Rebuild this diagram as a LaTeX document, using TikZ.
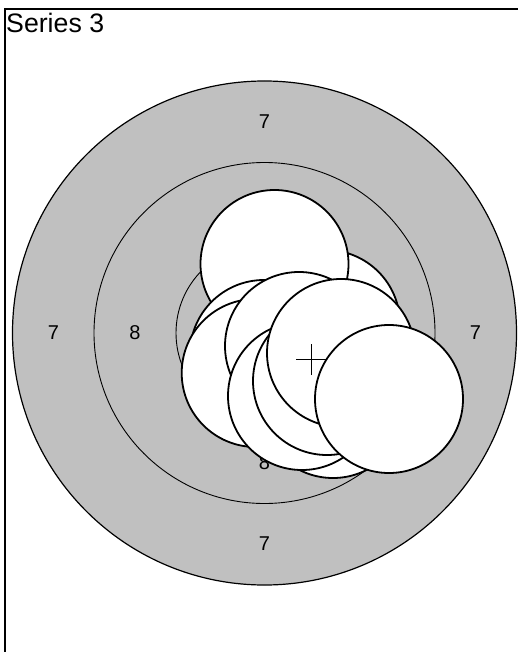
\documentclass[tikz,border=0pt]{standalone}
\usepackage{fontspec}
\setmainfont{Liberation Sans}
\definecolor{targetgray}{RGB}{192,192,192}
\begin{document}
\begin{tikzpicture}[x=1pt,y=-1pt,
  shot/.style={circle, draw=black, fill=white, line width=1.8pt, minimum size=148pt, inner sep=0pt},
  ringc/.style={circle, draw=black, fill=targetgray, inner sep=0pt},
  lbl/.style={font=\fontsize{20}{24}\selectfont, inner sep=0pt},
  frame/.style={line width=1.6pt}]
\useasboundingbox (0,0) rectangle (518,652);
\fill[white] (0,0) rectangle (518,652);
% frame
\coordinate (fb) at (5,652);
\coordinate (fc) at (5,9);
\coordinate (fr) at (518,9);
\draw[frame] (fb) -- (fc) -- (fr);
\node[anchor=base west, inner sep=0pt, font=\fontsize{26.7}{30}\selectfont] (title) at (6,33) {Series 3};
% target rings
\node[ringc, line width=1.2pt, minimum size=504pt] (r7) at (264.5,333) {};
\node[ringc, line width=0.9pt, minimum size=341pt] (r8) at (264.5,333) {};
\node[ringc, line width=0.9pt, minimum size=177pt] (r9) at (264.5,333) {};
% ring labels
\node[lbl] (l7t) at (264.5,122) {7};
\node[lbl] (l7b) at (264.5,544) {7};
\node[lbl] (l7l) at (53.5,333) {7};
\node[lbl] (l7r) at (475.5,333) {7};
\node[lbl] (l8l) at (135,333) {8};
\node[lbl] (l8b) at (264.5,462.5) {8};
% shots
\node[shot] (sB) at (326,324) {};
\node[shot] (sJ) at (333,404) {};
\node[shot] (sA) at (274.5,264) {};
\node[shot] (sC) at (264,354) {};
\node[shot] (sE) at (255.7,373) {};
\node[shot] (sF) at (299,346) {};
\node[shot] (sG) at (302,396) {};
\node[shot] (sH) at (327,381) {};
\node[shot] (sI) at (341,353) {};
\node[shot] (sK) at (389,399) {};
% mean point of impact cross
\coordinate (mpi) at (311.5,359.5);
\draw[line width=1.2pt] ([xshift=-15.5pt]mpi) -- ([xshift=15.5pt]mpi);
\draw[line width=1.2pt] ([yshift=-15.5pt]mpi) -- ([yshift=15.5pt]mpi);
\end{tikzpicture}
\end{document}
